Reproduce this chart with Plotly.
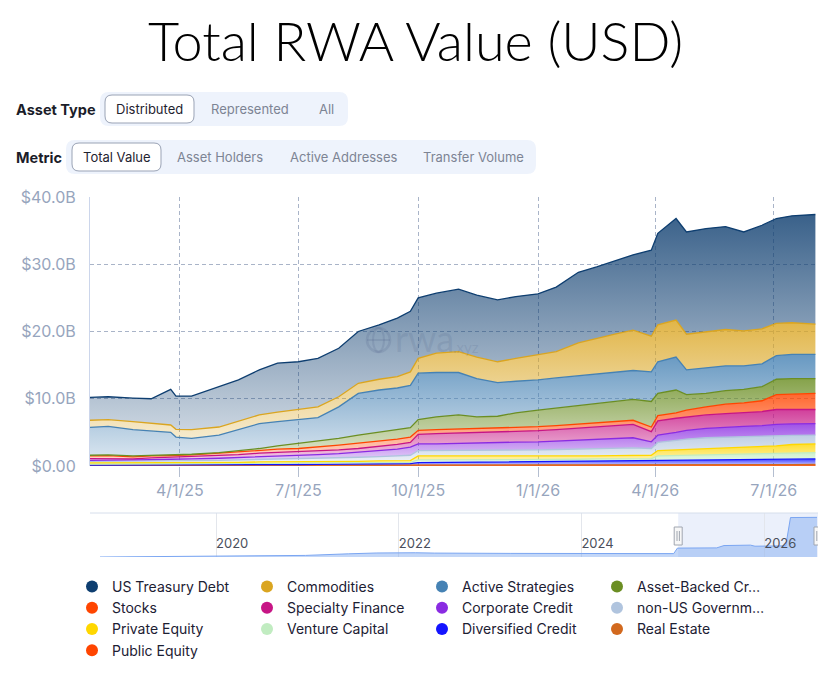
import plotly.graph_objects as go
import numpy as np

# ---- data (values in billions of USD) ----
dates = ["2025-01-22", "2025-02-05", "2025-02-24", "2025-03-10", "2025-03-25", "2025-03-29",
         "2025-04-10", "2025-05-01", "2025-05-16", "2025-06-01", "2025-06-15", "2025-07-01",
         "2025-07-16", "2025-08-01", "2025-08-16", "2025-09-01", "2025-09-15", "2025-09-25",
         "2025-10-01", "2025-10-15", "2025-11-01", "2025-11-15", "2025-12-01", "2025-12-15",
         "2026-01-01", "2026-01-15", "2026-02-01", "2026-02-15", "2026-03-01", "2026-03-15",
         "2026-03-29", "2026-04-03", "2026-04-17", "2026-04-25", "2026-05-10", "2026-05-25",
         "2026-06-08", "2026-06-22", "2026-07-03", "2026-07-15", "2026-08-02"]

us_treasury = [3.4, 3.4, 3.5, 3.6, 5.3, 4.95, 5.0, 6.0, 6.1, 6.7, 7.3, 7.1, 7.2, 7.2, 7.7, 8.1, 8.7, 9.0,
               9.0, 8.9, 9.3, 9.2, 9.2, 9.2, 9.1, 9.6, 10.5, 10.6, 10.9, 11.2, 12.8, 13.6, 15.1, 15.2,
               15.3, 15.3, 14.7, 15.4, 15.6, 15.9, 16.3]
commodities = [1.05, 1.0, 1.2, 1.2, 1.1, 1.15, 1.3, 1.2, 1.3, 1.3, 1.4, 1.5, 1.6, 1.5, 1.5, 1.6, 1.7, 2.0,
               2.2, 2.9, 3.1, 3.2, 3.1, 3.4, 3.7, 3.9, 4.9, 5.4, 5.7, 6.0, 5.3, 5.5, 5.5, 5.3,
               5.4, 5.4, 5.2, 5.2, 4.8, 4.7, 4.5]
active_strategies = [4.15, 4.25, 3.9, 3.6, 3.35, 2.65, 2.35, 2.6, 3.1, 3.7, 3.6, 3.5, 3.5, 4.7, 6.2, 6.3,
                     6.2, 6.3, 6.9, 6.6, 6.3, 5.7, 5.0, 4.7, 4.5, 4.5, 4.4, 4.3, 4.3, 4.3, 4.4, 4.7,
                     4.9, 3.7, 3.8, 3.7, 3.5, 3.4, 3.5, 3.6, 3.6]
asset_backed = [0.1, 0.1, 0.15, 0.1, 0.1, 0.1, 0.1, 0.1, 0.2, 0.3, 0.5, 0.8, 0.9, 1.0, 1.2, 1.3, 1.4, 1.4,
                1.6, 1.9, 2.1, 1.8, 1.8, 2.2, 2.45, 2.6, 2.8, 2.9, 3.0, 3.1, 3.8, 3.3, 3.4, 2.3,
                2.0, 2.0, 2.0, 2.1, 2.3, 2.3, 2.2]
stocks = [0.4, 0.45, 0.3, 0.3, 0.25, 0.25, 0.3, 0.4, 0.4, 0.4, 0.5, 0.5, 0.5, 0.7, 0.8, 0.8, 0.8, 0.8,
          0.6, 0.6, 0.6, 0.6, 0.6, 0.6, 0.6, 0.6, 0.6, 0.6, 0.6, 0.6, 0.7, 0.8, 0.8, 1.0,
          1.2, 1.4, 1.5, 1.6, 2.2, 2.3, 2.4]
specialty_finance = [0.25, 0.25, 0.2, 0.25, 0.3, 0.3, 0.3, 0.35, 0.45, 0.55, 0.55, 0.6, 0.6, 0.55, 0.5,
                     0.6, 0.7, 0.7, 1.4, 1.5, 1.5, 1.5, 1.5, 1.55, 1.65, 1.7, 1.8, 1.9, 2.0, 2.0, 1.5,
                     2.1, 2.1, 2.0, 2.0, 2.0, 2.0, 2.1, 2.2, 2.15, 2.1]
corporate_credit = [0.15, 0.15, 0.15, 0.2, 0.25, 0.25, 0.25, 0.3, 0.35, 0.4, 0.45, 0.45, 0.55, 0.6, 0.8,
                    0.9, 1.0, 1.2, 1.0, 1.0, 1.1, 1.1, 1.15, 1.15, 1.2, 1.25, 1.3, 1.35, 1.4, 1.5, 1.0,
                    1.1, 1.2, 1.3, 1.4, 1.5, 1.5, 1.5, 1.7, 1.7, 1.7]
non_us_gov = [0.25, 0.25, 0.25, 0.3, 0.25, 0.25, 0.3, 0.3, 0.35, 0.35, 0.4, 0.4, 0.5, 0.55, 0.6, 0.65,
              0.75, 0.8, 0.8, 0.8, 0.85, 0.85, 0.95, 1.0, 1.0, 1.0, 1.0, 1.05, 1.05, 1.1, 1.0,
              1.2, 1.4, 1.5, 1.6, 1.6, 1.6, 1.6, 1.5, 1.35, 1.3]
private_equity = [0.15, 0.15, 0.15, 0.15, 0.15, 0.15, 0.15, 0.2, 0.15, 0.2, 0.2, 0.2, 0.2, 0.2, 0.2, 0.25,
                  0.2, 0.25, 0.6, 0.6, 0.55, 0.55, 0.45, 0.45, 0.45, 0.45, 0.5, 0.45, 0.5, 0.5, 0.5,
                  0.8, 0.85, 0.9, 0.95, 1.0, 1.05, 1.1, 1.15, 1.3, 1.3]
venture_capital = [0.18, 0.18, 0.17, 0.17, 0.21, 0.21, 0.2, 0.19, 0.23, 0.22, 0.2, 0.23, 0.21, 0.24, 0.22,
                   0.2, 0.23, 0.2, 0.4, 0.38, 0.35, 0.33, 0.35, 0.33, 0.3, 0.28, 0.25, 0.28, 0.25, 0.28,
                   0.28, 0.65, 0.67, 0.7, 0.75, 0.78, 0.8, 0.85, 0.85, 0.9, 0.95]
diversified_credit = [0.02, 0.02, 0.03, 0.03, 0.04, 0.04, 0.05, 0.06, 0.07, 0.08, 0.1, 0.12, 0.14, 0.16,
                      0.18, 0.2, 0.22, 0.25, 0.38, 0.4, 0.43, 0.45, 0.48, 0.5, 0.53, 0.6, 0.63, 0.65,
                      0.68, 0.7, 0.7, 0.71, 0.74, 0.76, 0.76, 0.78, 0.81, 0.81, 0.86, 0.8, 0.83]
real_estate = [0.08] * 18 + [0.1] * 13 + [0.12] * 8 + [0.18, 0.2]
public_equity = [0.02] * 41

# navigator (full history) values in billions
nav_dates = ["2018-09-24", "2019-07-26", "2020-07-05", "2020-12-24", "2021-06-13", "2021-10-05",
             "2022-03-08", "2022-05-23", "2023-03-25", "2024-01-08", "2025-01-04", "2025-01-19",
             "2025-06-25", "2025-07-24", "2025-11-07", "2025-11-25", "2026-01-23", "2026-03-28",
             "2026-04-16", "2026-07-31"]
nav_total = [0.0, 0.5, 1.0, 1.5, 3.0, 3.8, 4.0, 3.7, 3.4, 3.1, 3.2, 8.4, 8.6, 10.8, 11.2, 10.2,
             10.2, 10.5, 37.2, 37.4]
nav_ticks = ["2020-01-01", "2022-01-01", "2024-01-01", "2026-01-01"]
nav_ticktext = ["2020", "2022", "2024", "2026"]

x_ticks = ["2025-04-01", "2025-07-01", "2025-10-01", "2026-01-01", "2026-04-01", "2026-07-01"]
x_ticktext = ["4/1/25", "7/1/25", "10/1/25", "1/1/26", "4/1/26", "7/1/26"]
y_ticks = [0, 10, 20, 30, 40]
y_ticktext = ["$0.00", "$10.0B", "$20.0B", "$30.0B", "$40.0B"]

# legend order (top of stack first)
series = [
    ("US Treasury Debt", us_treasury, (14, 62, 112)),
    ("Commodities", commodities, (218, 165, 32)),
    ("Active Strategies", active_strategies, (70, 130, 180)),
    ("Asset-Backed Cr…", asset_backed, (107, 142, 35)),
    ("Stocks", stocks, (255, 69, 0)),
    ("Specialty Finance", specialty_finance, (199, 21, 133)),
    ("Corporate Credit", corporate_credit, (138, 43, 226)),
    ("non-US Governm…", non_us_gov, (176, 196, 222)),
    ("Private Equity", private_equity, (255, 215, 0)),
    ("Venture Capital", venture_capital, (193, 236, 193)),
    ("Diversified Credit", diversified_credit, (20, 20, 255)),
    ("Real Estate", real_estate, (210, 105, 30)),
    ("Public Equity", public_equity, (255, 69, 0)),
]

# ---- pixel helpers for the layout (plot area 90..818 x 197..557) ----
L, R, T, B = 90, 818, 197, 557


def px(x):
    return (x - L) / (R - L)


def py(y):
    return (B - y) / (B - T)


def rrect(x0, y0, x1, y1, r):
    # rounded rectangle as svg path in paper coords
    rx, ry = r / (R - L), r / (B - T)
    a0, a1, b0, b1 = px(x0), px(x1), py(y1), py(y0)
    return (f"M{a0+rx},{b0} L{a1-rx},{b0} Q{a1},{b0} {a1},{b0+ry} L{a1},{b1-ry} "
            f"Q{a1},{b1} {a1-rx},{b1} L{a0+rx},{b1} Q{a0},{b1} {a0},{b1-ry} "
            f"L{a0},{b0+ry} Q{a0},{b0} {a0+rx},{b0} Z")


fig = go.Figure()

# stacked areas, bottom series first
base = np.zeros(len(dates))
for rank, (name, vals, c) in reversed(list(enumerate(series))):
    v = np.array(vals, dtype=float)
    lo, hi = base.min(), (base + v).max()
    base = base + v
    rgb = f"{c[0]},{c[1]},{c[2]}"
    fig.add_trace(go.Scatter(
        x=dates, y=v, name=name, stackgroup="one", mode="lines",
        line=dict(color=f"rgb({rgb})", width=1.3),
        fillgradient=dict(type="vertical", start=lo, stop=hi,
                          colorscale=[[0, f"rgba({rgb},0.22)"], [1, f"rgba({rgb},0.82)"]]),
        showlegend=False, hoverinfo="x+y+name",
    ))

# legend entries as dots
for rank, (name, vals, c) in enumerate(series):
    fig.add_trace(go.Scatter(
        x=[None], y=[None], mode="markers", name=name, legendrank=rank + 1,
        marker=dict(size=13, color=f"rgb({c[0]},{c[1]},{c[2]})"),
    ))

# navigator
fig.add_trace(go.Scatter(
    x=nav_dates, y=nav_total, xaxis="x2", yaxis="y2", mode="lines", fill="tozeroy",
    line=dict(color="#7ba6f2", width=1), fillcolor="rgba(122,166,240,0.45)",
    showlegend=False, hoverinfo="skip",
))

axis_font = dict(family="Inter, Noto Sans, sans-serif", size=16, color="#97a5bd")
grid = dict(gridcolor="#a9b4c8", gridwidth=1, griddash="4px,3px")

win = ["2025-01-22", "2026-08-04"]

shapes = [
    # controls
    dict(type="path", path=rrect(100, 92, 348, 126, 9), xref="paper", yref="paper",
         fillcolor="#eef3fc", line=dict(width=0)),
    dict(type="path", path=rrect(105, 95, 194, 123, 7), xref="paper", yref="paper",
         fillcolor="white", line=dict(color="#9aa3b5", width=1)),
    dict(type="path", path=rrect(66, 140, 536, 174, 9), xref="paper", yref="paper",
         fillcolor="#eef3fc", line=dict(width=0)),
    dict(type="path", path=rrect(72, 143, 161, 171, 7), xref="paper", yref="paper",
         fillcolor="white", line=dict(color="#9aa3b5", width=1)),
    # watermark globe
    dict(type="circle", xref="paper", yref="paper", x0=px(367), x1=px(390), y0=py(352), y1=py(328),
         line=dict(color="rgba(90,110,145,0.22)", width=2.5)),
    dict(type="circle", xref="paper", yref="paper", x0=px(373), x1=px(384), y0=py(352), y1=py(328),
         line=dict(color="rgba(90,110,145,0.22)", width=2)),
    dict(type="line", xref="paper", yref="paper", x0=px(367), x1=px(390), y0=py(340), y1=py(340),
         line=dict(color="rgba(90,110,145,0.22)", width=2)),
    # navigator window, outline and handles
    dict(type="rect", xref="x2", yref="y2 domain", x0=win[0], x1=win[1], y0=0, y1=1,
         fillcolor="rgba(110,150,230,0.14)", line=dict(width=0), layer="below"),
    dict(type="line", xref="paper", yref="paper", x0=0, x1=1, y0=py(513), y1=py(513),
         line=dict(color="#d6deeb", width=1)),
]
for w in win:
    shapes.append(dict(type="rect", xref="x2", xsizemode="pixel", xanchor=w, x0=-4, x1=4,
                       yref="paper", y0=py(545), y1=py(527), fillcolor="#f7f7f7",
                       line=dict(color="#a0a6b0", width=1)))
    for dx in (-1.2, 1.2):
        shapes.append(dict(type="line", xref="x2", xsizemode="pixel", xanchor=w, x0=dx, x1=dx,
                           yref="paper", y0=py(541), y1=py(531), line=dict(color="#a0a6b0", width=1)))

ui_font = "Inter, Noto Sans, sans-serif"
annotations = [
    dict(text="Total RWA Value (USD)", x=px(415), y=py(40), xref="paper", yref="paper",
         showarrow=False, font=dict(family="Lato, sans-serif", size=54, weight=300, color="#000000")),
    dict(text="<b>Asset Type</b>", x=px(14), y=py(109), xanchor="left"),
    dict(text="Distributed", x=px(149.5), y=py(109), font=dict(family=ui_font, size=13, color="#1f2330")),
    dict(text="Represented", x=px(250), y=py(109)),
    dict(text="All", x=px(326), y=py(109)),
    dict(text="<b>Metric</b>", x=px(14), y=py(157), xanchor="left"),
    dict(text="Total Value", x=px(116.5), y=py(157), font=dict(family=ui_font, size=13, color="#1f2330")),
    dict(text="Asset Holders", x=px(220), y=py(157)),
    dict(text="Active Addresses", x=px(344), y=py(157)),
    dict(text="Transfer Volume", x=px(473), y=py(157)),
    dict(text="rwa", x=px(393), y=py(338), xanchor="left",
         font=dict(family="Lato, sans-serif", size=36, color="rgba(90,110,145,0.2)")),
    dict(text=".xyz", x=px(451), y=py(347), xanchor="left",
         font=dict(family="Lato, sans-serif", size=15, color="rgba(90,110,145,0.2)")),
]
for a in annotations:
    a.setdefault("xref", "paper")
    a.setdefault("yref", "paper")
    a.setdefault("showarrow", False)
    a.setdefault("yanchor", "middle")
    a.setdefault("xanchor", "center")
    if "font" not in a:
        bold = a["text"].startswith("<b>")
        a["font"] = dict(family=ui_font, size=14.5 if bold else 13, color="#1b1d29" if bold else "#7d8494")

fig.update_layout(
    width=829, height=674,
    margin=dict(l=L, r=829 - R, t=T, b=674 - B, pad=0, autoexpand=False),
    paper_bgcolor="white", plot_bgcolor="white",
    font=dict(family=ui_font),
    xaxis=dict(range=win, domain=[0, 1], anchor="y", tickvals=x_ticks, ticktext=x_ticktext,
               tickfont=axis_font, showgrid=True, ticks="outside", ticklen=10, tickcolor="#b4bed0",
               showline=False, zeroline=False, layer="above traces", **grid),
    yaxis=dict(range=[0, 40], domain=[(B - 466) / (B - T), 1], tickvals=y_ticks, ticktext=y_ticktext,
               tickfont=axis_font, showgrid=True, zeroline=False, showline=True, linecolor="#ccd6eb",
               ticks="", ticklabelstandoff=10, layer="above traces", **grid),
    xaxis2=dict(range=["2018-08-15", win[1]], domain=[0, 1], anchor="y2", tickvals=nav_ticks,
                ticktext=nav_ticktext, ticklabelposition="inside right", showgrid=True,
                gridcolor="#e3e6ec", ticks="", zeroline=False, showline=False,
                tickfont=dict(family=ui_font, size=13, color="#4a4f5c")),
    yaxis2=dict(range=[0, 41.5], domain=[0, (B - 513) / (B - T)], anchor="x2", showticklabels=False,
                showgrid=False, zeroline=False, ticks=""),
    shapes=shapes,
    annotations=annotations,
    legend=dict(orientation="h", x=px(72), y=py(571), xanchor="left", yanchor="top",
                entrywidth=130, entrywidthmode="pixels", traceorder="normal",
                font=dict(family=ui_font, size=14, color="#1c2033"), itemsizing="constant",
                bgcolor="rgba(0,0,0,0)"),
    hovermode="x unified",
)

fig.write_html("out.html", config={"displayModeBar": False},
               post_script="document.body.style.margin='0px';")
